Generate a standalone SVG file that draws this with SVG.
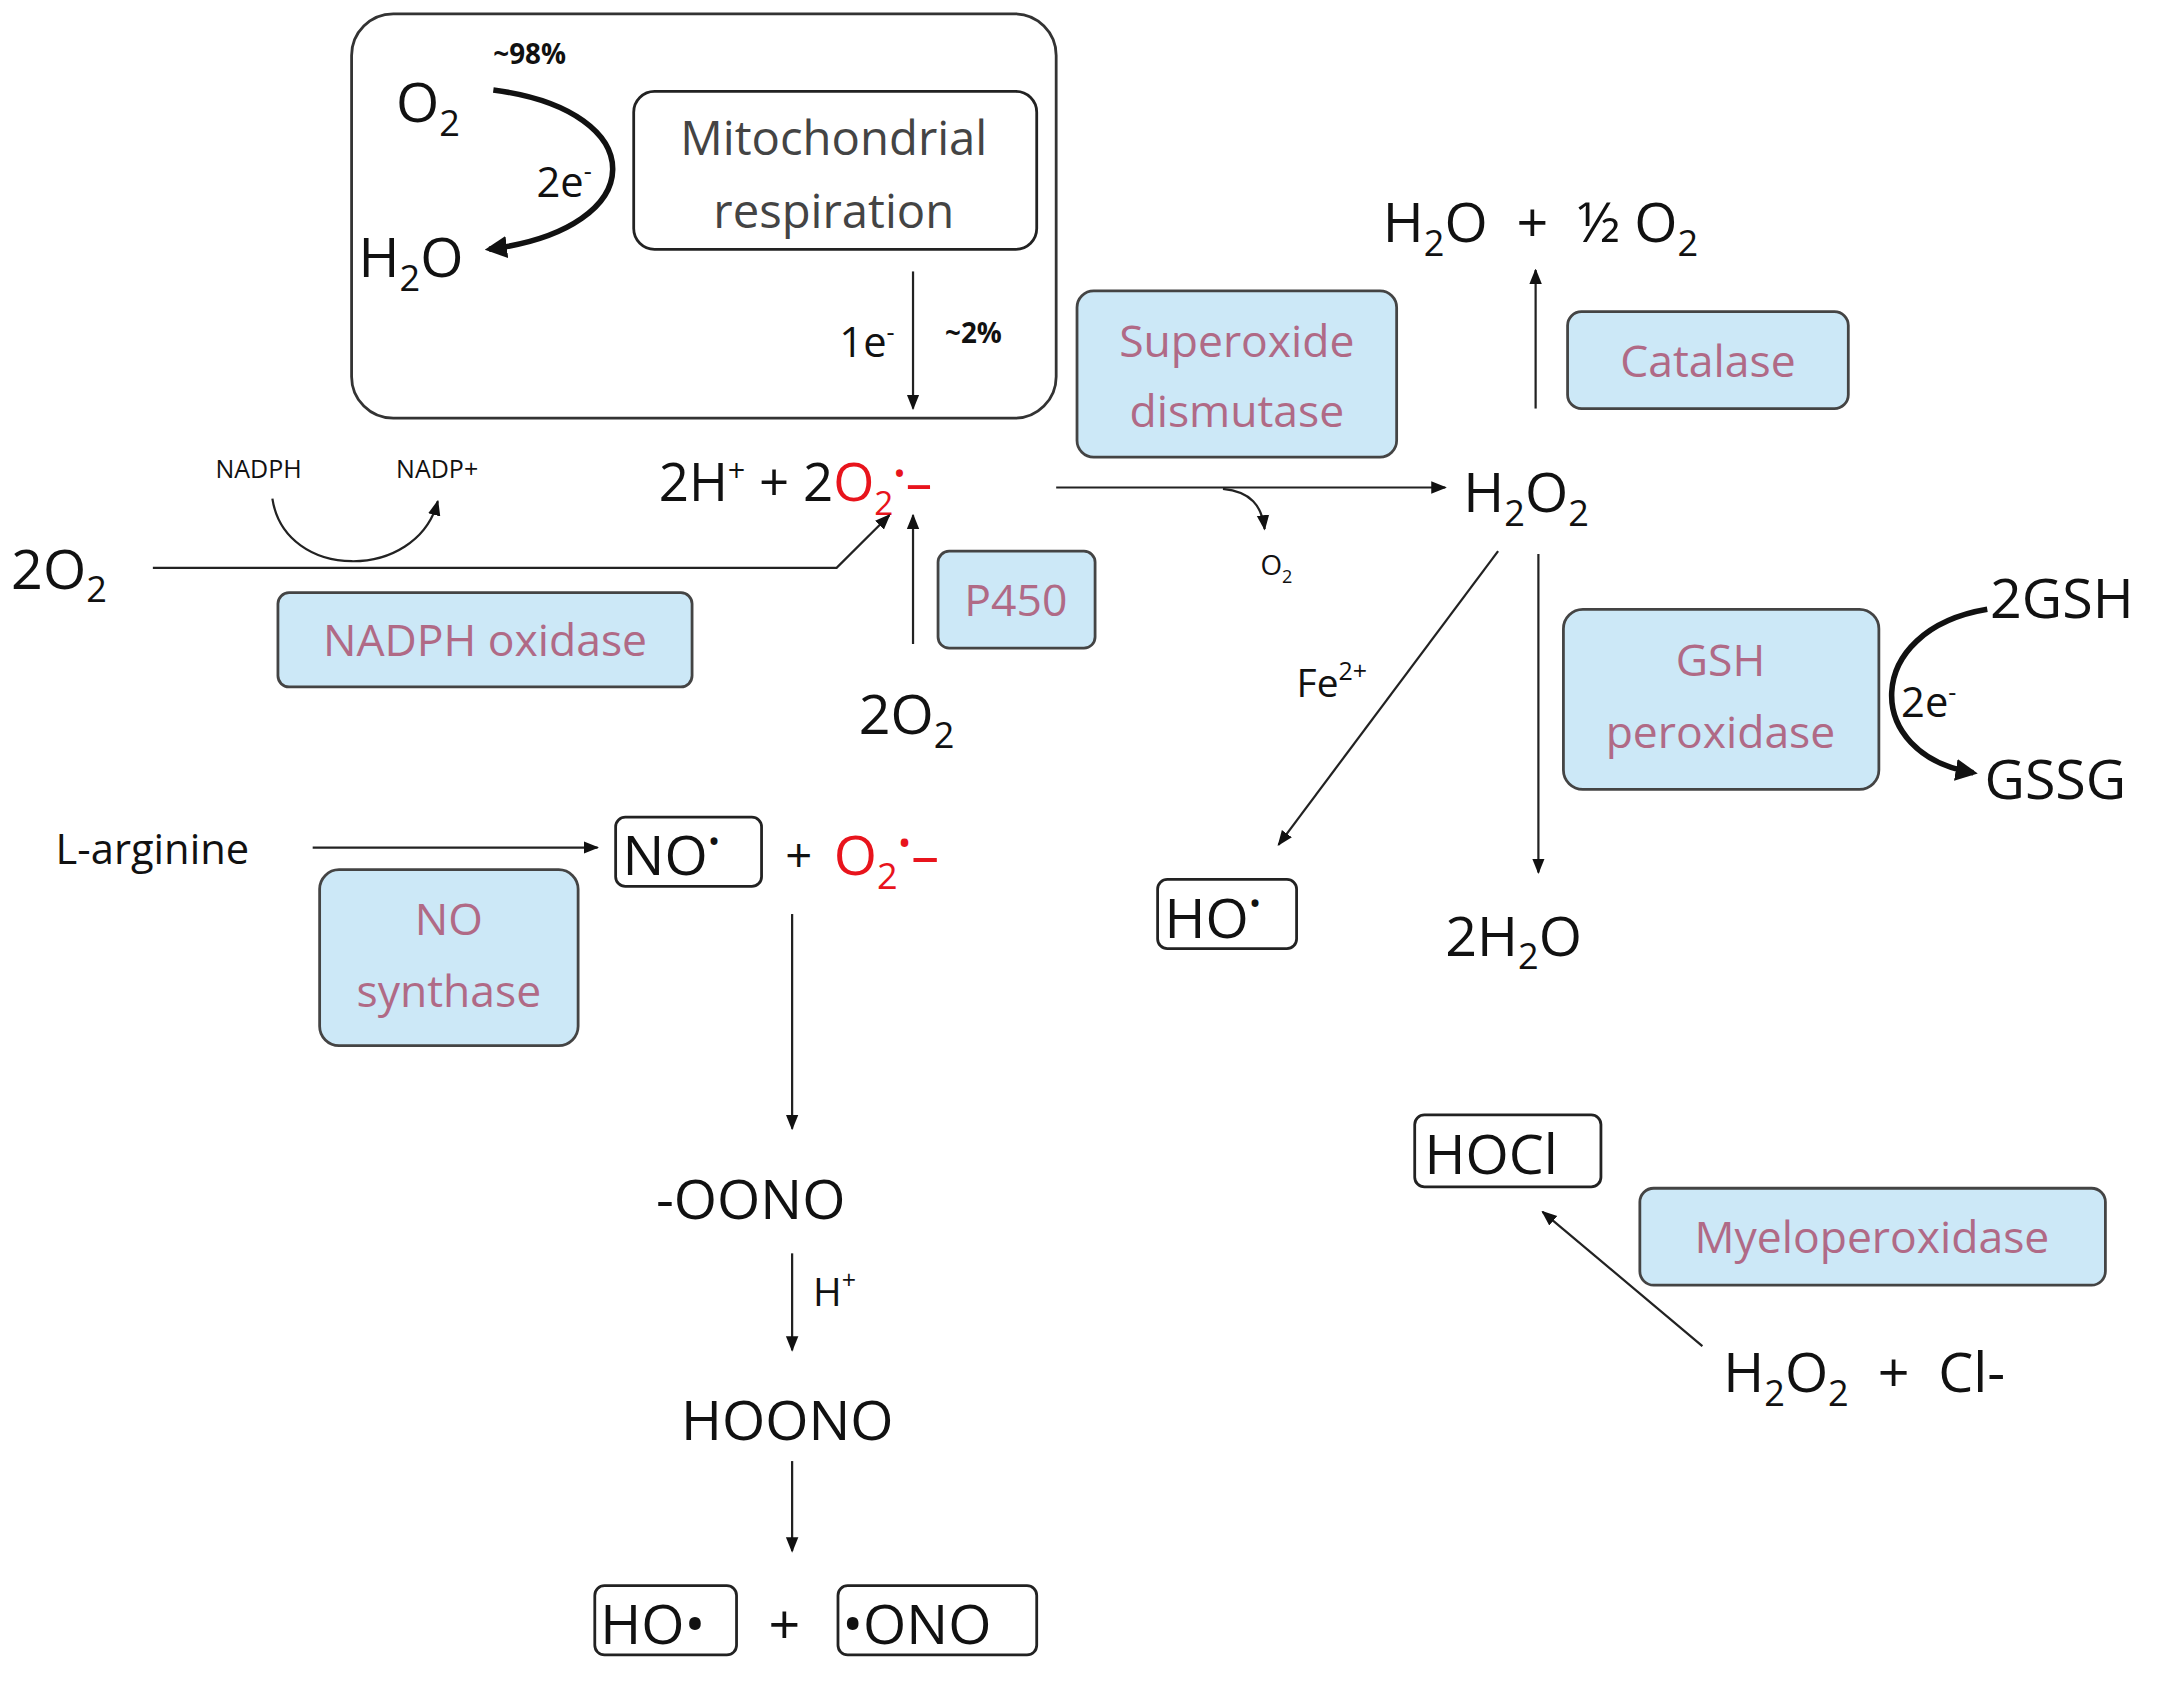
<svg xmlns="http://www.w3.org/2000/svg" width="2179" height="1684" viewBox="0 0 2179 1684">
<defs>
<marker id="a" viewBox="0 0 10 10" refX="9" refY="5" markerWidth="7" markerHeight="7" orient="auto-start-reverse"><path d="M0,1 L10,5 L0,9 z" fill="#111"/></marker>
<marker id="b" viewBox="0 0 10 10" refX="8" refY="5" markerWidth="4" markerHeight="4" orient="auto"><path d="M0,0 L10,5 L0,10 z" fill="#111"/></marker>
</defs>
<style>
text{font-family:"Open Sans","Liberation Sans",sans-serif;fill:#111}
.e{fill:#cce8f7;stroke:#444;stroke-width:2}
.et{fill:#b06a86;font-size:32px;text-anchor:middle}
.w{fill:#fff;stroke:#222;stroke-width:2}
.l{stroke:#222;stroke-width:1.6;fill:none;marker-end:url(#a)}
.t{font-size:40px}
.r{fill:#e8141c}
</style>
<rect width="2179" height="1684" fill="#fff"/>
<g transform="scale(1.3897,1.3849)">
<g id="mito">
<rect x="253" y="10" width="507" height="292" rx="30" fill="#fff" stroke="#333" stroke-width="2"/>
<text x="285" y="88" class="t">O<tspan font-size="26" dy="10">2</tspan></text>
<text x="355" y="46" font-size="20" font-weight="bold">~98%</text>
<text x="258" y="200" class="t">H<tspan font-size="26" dy="10">2</tspan><tspan dy="-10">O</tspan></text>
<text x="386" y="142" font-size="30">2e<tspan font-size="18" dy="-12">-</tspan></text>
<rect x="456" y="66" width="290" height="114" rx="15" class="w"/>
<text x="600" y="112" font-size="34" fill="#444" style="fill:#444" text-anchor="middle">Mitochondrial</text>
<text x="600" y="165" font-size="34" style="fill:#444" text-anchor="middle">respiration</text>
</g>
<g id="nodes">
<text x="474" y="362" font-size="38">2H<tspan font-size="22" dy="-14">+</tspan><tspan dy="14"> + 2</tspan><tspan class="r">O</tspan><tspan class="r" font-size="24" dy="10">2</tspan><tspan class="r" font-size="24" dy="-22">•</tspan><tspan class="r" dy="12">–</tspan></text>
<text x="155" y="345" font-size="18">NADPH</text>
<text x="285" y="345" font-size="18">NADP+</text>
<text x="8" y="425" class="t">2O<tspan font-size="26" dy="10">2</tspan></text>
<rect x="200" y="428" width="298" height="68" rx="8" class="e"/><text x="349" y="474" class="et">NADPH oxidase</text>
<rect x="675" y="398" width="113" height="70" rx="8" class="e"/><text x="731" y="445" class="et">P450</text>
<text x="618" y="530" class="t">2O<tspan font-size="26" dy="10">2</tspan></text>
<rect x="775" y="210" width="230" height="120" rx="12" class="e"/><text x="890" y="258" class="et">Superoxide</text><text x="890" y="308" class="et">dismutase</text>
<text x="907" y="415" font-size="20">O<tspan font-size="13" dy="6">2</tspan></text>
<text x="1053" y="370" class="t">H<tspan font-size="26" dy="10">2</tspan><tspan dy="-10">O</tspan><tspan font-size="26" dy="10">2</tspan></text>
<text x="995" y="175" class="t" xml:space="preserve">H<tspan font-size="26" dy="10">2</tspan><tspan dy="-10">O  +  ½ O</tspan><tspan font-size="26" dy="10">2</tspan></text>
<rect x="1128" y="225" width="202" height="70" rx="10" class="e"/><text x="1229" y="272" class="et">Catalase</text>
<text x="933" y="503" font-size="28">Fe<tspan font-size="18" dy="-12">2+</tspan></text>
<rect x="833" y="635" width="100" height="50" rx="7" class="w"/><text x="838" y="677" class="t">HO<tspan font-size="24" dy="-16">•</tspan></text>
<text x="1040" y="690" class="t">2H<tspan font-size="26" dy="10">2</tspan><tspan dy="-10">O</tspan></text>
<rect x="1125" y="440" width="227" height="130" rx="14" class="e"/><text x="1238" y="488" class="et">GSH</text><text x="1238" y="540" class="et">peroxidase</text>
<text x="1432" y="446" class="t">2GSH</text>
<text x="1428" y="577" class="t">GSSG</text>
<text x="1368" y="518" font-size="30">2e<tspan font-size="18" dy="-12">-</tspan></text>
<text x="40" y="624" font-size="30">L-arginine</text>
<rect x="443" y="590" width="105" height="50" rx="7" class="w"/><text x="448" y="632" class="t">NO<tspan font-size="24" dy="-16">•</tspan></text>
<text x="565" y="630" font-size="34">+</text>
<text x="600" y="632" class="t r">O<tspan font-size="26" dy="10">2</tspan><tspan font-size="26" dy="-24">•</tspan><tspan dy="14">–</tspan></text>
<rect x="230" y="628" width="186" height="127" rx="14" class="e"/><text x="323" y="675" class="et">NO</text><text x="323" y="727" class="et">synthase</text>
<text x="472" y="880" class="t">-OONO</text>
<text x="585" y="943" font-size="28">H<tspan font-size="18" dy="-12">+</tspan></text>
<text x="490" y="1040" class="t">HOONO</text>
<rect x="428" y="1145" width="102" height="50" rx="7" class="w"/><text x="432" y="1187" class="t">HO•</text>
<text x="553" y="1187" class="t">+</text>
<rect x="603" y="1145" width="143" height="50" rx="7" class="w"/><text x="606" y="1187" class="t">•ONO</text>
<rect x="1018" y="805" width="134" height="52" rx="7" class="w"/><text x="1025" y="848" class="t">HOCl</text>
<rect x="1180" y="858" width="335" height="70" rx="10" class="e"/><text x="1347" y="905" class="et">Myeloperoxidase</text>
<text x="1240" y="1005" class="t" xml:space="preserve">H<tspan font-size="26" dy="10">2</tspan><tspan dy="-10">O</tspan><tspan font-size="26" dy="10">2</tspan><tspan dy="-10">  +  Cl-</tspan></text>
</g>
<g id="connectors">
<path d="M355,65 C470,80 470,165 352,180" stroke="#111" stroke-width="4" fill="none" marker-end="url(#b)"/>
<path d="M1430,440 C1340,455 1340,545 1420,558" stroke="#111" stroke-width="4" fill="none" marker-end="url(#b)"/>
<path class="l" d="M657,196 V295"/>
<text x="604" y="258" font-size="30">1e<tspan font-size="18" dy="-12">-</tspan></text>
<text x="680" y="248" font-size="20" font-weight="bold">~2%</text>
<path class="l" d="M196,360 C205,420 300,420 315,362"/>
<path class="l" d="M110,410 H602 L640,372"/>
<path class="l" d="M657,465 V372"/>
<path class="l" d="M760,352 H1040"/>
<path class="l" d="M880,353 C900,355 908,365 910,382"/>
<path class="l" d="M1105,295 V195"/>
<path class="l" d="M1078,398 L920,610"/>
<path class="l" d="M1107,400 V630"/>
<path class="l" d="M225,612 H430"/>
<path class="l" d="M570,660 V815"/>
<path class="l" d="M570,905 V975"/>
<path class="l" d="M570,1055 V1120"/>
<path class="l" d="M1225,972 L1110,875"/>
</g>
</g>
</svg>
